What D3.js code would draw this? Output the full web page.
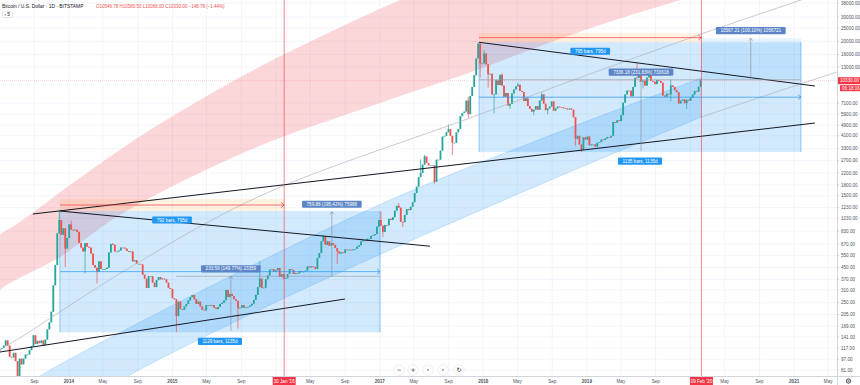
<!DOCTYPE html>
<html><head><meta charset="utf-8">
<script src="https://cdn.jsdelivr.net/npm/d3@7"></script>
<style>html,body{margin:0;padding:0;background:#fff;}svg{display:block;font-family:"Liberation Sans",Arial,sans-serif;}</style>
</head><body><svg id="c" width="860" height="385"></svg>
<script>
// ---------- DATA ----------
const weekStart = "2013-05-05";          // first weekly close (Sunday)
const firstOpen = 112;
const close2013 = [115,117,122,133,122,101,100,108,94,70,98,89,98,105,105,113,121,145,125,132,127,133,123,135,160,180,215,335,470,800,1000,780,870,620,740];
const close2014 = [930,850,840,850,820,680,630,590,680,640,630,570,470,450,420,500,440,440,440,450,580,670,660,590,590,600,630,630,620,595,585,590,500,510,480,480,475,400,375,320,390,390,350,325,365,385,370,375,370,350,320,315];
const close2015 = [270,265,200,255,225,222,235,245,260,275,285,265,245,255,235,222,220,240,240,237,240,230,225,233,245,250,260,310,275,290,280,265,258,228,230,240,230,231,233,238,246,262,285,325,375,320,322,370,395,435,440,422];
const close2016 = [431,448,385,404,375,377,405,440,433,405,411,410,425,420,420,428,460,452,460,455,440,530,575,700,760,660,700,650,680,660,625,590,570,582,575,610,608,608,602,612,617,640,655,700,710,705,730,730,766,774,790,895];
const close2017 = [1000,910,820,920,915,1020,1000,1050,1170,1270,1230,970,965,1090,1200,1180,1250,1350,1570,1750,2050,2200,2530,2900,2600,2500,2500,2500,1900,2750,2750,3200,4050,4100,4350,4580,4100,3650,3650,4350,4600,5700,6000,6150,7400,5900,8000,9300,11300,15000,19200,13800,13800];
const close2018 = [16300,13600,11500,11600,8200,8200,10400,9600,11400,9500,7900,8400,6800,7000,8350,8900,9400,9650,8700,8550,7350,7700,6750,6450,6150,6350,6750,6350,7400,8200,7030,6300,6480,6700,7300,6250,6500,6700,6630,6600,6500,6480,6380,6480,6350,5600,3900,4100,3550,3250,4000,3850];
const close2019 = [4050,3500,3550,3550,3420,3650,3690,3850,3820,3920,4020,3990,4100,5170,5100,5320,5250,5800,7150,8200,8750,8740,7950,9300,10850,10800,11450,10200,10350,9500,10900,11400,10300,10150,9750,10400,10300,9980,8050,7900,8300,8230,9550,9300,8800,8500,7050,7400,7550,7080,7500,7380];
const close2020 = [7750,8180,8700,8600,9330,10330];

const spikeDates  = ["2013-07-05","2013-11-30","2013-12-18","2014-01-06","2014-02-25","2014-04-11","2014-06-03","2015-01-14","2015-08-19","2015-11-04","2016-06-17","2016-08-02","2017-01-04","2017-01-11","2017-03-10","2017-03-25","2017-05-25","2017-06-11","2017-07-16","2017-09-02","2017-09-15","2017-11-08","2017-11-12","2017-12-17","2017-12-22","2018-01-06","2018-01-17","2018-02-06","2018-03-05","2018-04-06","2018-05-05","2018-06-29","2018-07-24","2018-08-14","2018-11-25","2018-12-15","2019-06-26","2019-07-17","2019-08-06","2019-10-23","2019-10-26","2019-12-18","2020-02-09"];
const spikePrices = [68,1163,455,990,410,345,680,152.4,162,502,778,480,1153,750,1330,890,2760,2990,1840,4980,2970,7880,5550,19666,10900,17200,9200,6000,11700,6450,9990,5780,8500,5880,3480,3122,13880,9070,12300,7300,10500,6430,10580];

const yTicks = [81,97,117,141,169,205,250,310,370,450,550,670,830,1030,1230,1500,1800,2200,2700,3300,4100,4900,5900,7100,13000,16000,20000,25000,30000,38000];
const lastPrice = 10330;
const headerTitle = "Bitcoin / U.S. Dollar · 1D · BITSTAMP";
const headerOHLC = "O10546.78 H10580.50 L10068.00 C10330.00 −148.78 (−1.44%)";

// drawings (date, price anchors)
const redBandUpper = [["2013-04-01",640],["2013-05-03",778],["2013-07-12",967],["2014-01-29",1956],["2014-10-14",4520],["2015-10-01",11950],["2016-07-10",23360],["2017-03-13",39935],["2017-09-05",55800]];
const redBandLower = [["2013-04-01",250],["2013-05-03",310],["2013-11-30",538],["2014-06-30",1088],["2015-10-01",3233],["2017-01-02",7110],["2017-12-10",12360],["2018-06-15",17290],["2019-02-16",26270],["2019-12-31",42000],["2020-04-14",48850]];
const blueBandUpper = [["2013-07-12",60],["2013-09-21",73.3],["2013-12-29",95.8],["2015-07-19",385],["2017-02-06",1399],["2018-08-10",4018],["2020-02-09",10808]];
const blueBandLower = [["2014-06-01",63],["2014-07-28",73.3],["2014-11-11",95.8],["2015-12-25",249],["2017-02-06",605],["2018-08-10",1891],["2020-02-09",5622]];
const grayLineA = [["2013-04-01",100],["2013-05-03",113.3],["2013-07-12",138.6],["2014-08-04",452],["2015-11-06",1496],["2017-11-15",5529],["2020-02-09",22590],["2021-06-01",48850]];
const grayLineB = [["2020-02-09",5622],["2020-10-08",8262],["2021-06-01",11950]];
const trendLines = [
  [["2013-08-27",1106],["2021-03-15",5080]],
  [["2013-11-30",1163],["2017-06-27",645]],
  [["2013-05-03",109.5],["2016-08-31",266]],
  [["2017-12-17",19666],["2021-03-15",9450]]
];
const dateBoxes = [
  {from:"2013-11-30", to:"2017-01-02", lo:152.4, hi:1163, label:"1129 bars, 1135d", kind:"box"},
  {from:"2017-12-17", to:"2021-01-25", lo:3122, hi:19666, label:"1135 bars, 1135d", kind:"box"},
  {from:"2013-11-30", to:"2016-01-30", lo:1163, hi:1422, label:"792 bars, 795d", kind:"strip"},
  {from:"2017-12-17", to:"2020-02-09", lo:19666, hi:22970, label:"795 bars, 795d", kind:"strip"}
];
const priceRanges = [
  {at:"2015-07-26", lo:155.96, hi:389.55, lineFrom:"2015-01-14", lineTo:"2017-01-02", fillTo:null, label:"233.59 (149.77%) 23359"},
  {at:"2016-07-16", lo:388.8, hi:1148.7, lineFrom:null, lineTo:null, fillTo:null, label:"759.88 (195.42%) 75988"},
  {at:"2019-07-11", lo:3164.4, hi:10500.6, lineFrom:"2017-12-17", lineTo:"2021-01-25", fillTo:null, label:"7336.18 (231.83%) 733618"},
  {at:"2020-08-01", lo:10500.6, hi:21067.8, lineFrom:null, lineTo:null, fillFrom:"2020-02-09", fillTo:"2021-01-25", label:"10567.21 (100.10%) 1056721"}
];
const markerDates = ["2016-01-30","2020-02-09"];
const markerLabels = ["30 Jan '16","09 Feb '20"];

// ---------- SETUP ----------
const PW = 837, PH = 376;
const parse = d3.utcParse("%Y-%m-%d");
const DAY = 864e5;
const x = d3.scaleUtc().domain([parse("2013-05-03"), parse("2021-06-01")]).range([0, PW]);
const y = d3.scaleLog().domain([73.25, 39935]).range([PH, 0]);
const svg = d3.select("#c");
svg.append("rect").attr("width",860).attr("height",385).attr("fill","#fff");
svg.append("defs").append("clipPath").attr("id","clip").append("rect").attr("width",PW).attr("height",PH);

const grid = svg.append("g");
const timeTicks = x.ticks(d3.utcMonth.every(4));
grid.selectAll("line.v").data(timeTicks).join("line")
  .attr("x1",d=>x(d)).attr("x2",d=>x(d)).attr("y1",0).attr("y2",PH).attr("stroke","#f0f3fa").attr("stroke-width",0.8);
grid.selectAll("line.h").data(yTicks).join("line")
  .attr("x1",0).attr("x2",PW).attr("y1",d=>y(d)).attr("y2",d=>y(d)).attr("stroke","#f0f3fa").attr("stroke-width",0.8);

const plot = svg.append("g").attr("clip-path","url(#clip)");
const pt = d => [x(parse(d[0])), y(d[1])];
const curve = d3.line().curve(d3.curveCatmullRom.alpha(0.5));
function bandPath(up, lo){
  const a = curve(up.map(pt));
  const b = curve(lo.slice().reverse().map(pt));
  return a + "L" + b.slice(1) + "Z";
}
// bands
plot.append("path").attr("d", bandPath(redBandUpper, redBandLower)).attr("fill","rgba(242,54,69,0.2)");
plot.append("path").attr("d", bandPath(blueBandUpper, blueBandLower)).attr("fill","rgba(33,150,243,0.2)");
[blueBandUpper, blueBandLower].forEach(l=>plot.append("path").attr("d",curve(l.map(pt))).attr("fill","none").attr("stroke","rgba(33,150,243,0.35)").attr("stroke-width",0.6));

// date range boxes
dateBoxes.forEach(b=>{
  const x0=x(parse(b.from)), x1=x(parse(b.to)), y0=y(b.hi), y1=y(b.lo);
  if(b.kind==="box"){
    plot.append("rect").attr("x",x0).attr("y",y0).attr("width",x1-x0).attr("height",y1-y0)
      .attr("fill","rgba(33,150,243,0.2)");
    plot.append("line").attr("x1",x0).attr("x2",x0).attr("y1",y0).attr("y2",y1).attr("stroke","rgba(33,150,243,0.6)").attr("stroke-width",0.8);
    plot.append("line").attr("x1",x1).attr("x2",x1).attr("y1",y0).attr("y2",y1).attr("stroke","rgba(33,150,243,0.6)").attr("stroke-width",0.8);
  } else {
    plot.append("rect").attr("x",x0).attr("y",y0).attr("width",x1-x0).attr("height",y1-y0)
      .attr("fill","rgba(255,152,0,0.12)");
  }
});
// price range fill (last one)
priceRanges.forEach(p=>{
  if(p.fillTo){
    const x0=x(parse(p.fillFrom)), x1=x(parse(p.fillTo));
    plot.append("rect").attr("x",x0).attr("y",y(p.hi)).attr("width",x1-x0).attr("height",y(p.lo)-y(p.hi)).attr("fill","rgba(33,150,243,0.1)");
  }
});

// candles
const closes = [].concat(close2013,close2014,close2015,close2016,close2017,close2018,close2019,close2020);
const ws = parse(weekStart);
const candles = closes.map((c,i)=>{
  const o = i ? closes[i-1] : firstOpen;
  return {date:new Date(+ws + i*7*DAY), o, c, h:Math.max(o,c), l:Math.min(o,c)};
});
spikeDates.forEach((d,k)=>{
  const s=(parse(d)-ws)/DAY; const i=Math.max(0,Math.ceil(s/7));
  if(candles[i]){ candles[i].h=Math.max(candles[i].h,spikePrices[k]); candles[i].l=Math.min(candles[i].l,spikePrices[k]); }
});
const cg = plot.append("g");
candles.forEach(k=>{
  const cx = x(new Date(+k.date - 3*DAY));
  const col = k.c >= k.o ? "#26a69a" : "#ef5350";
  cg.append("line").attr("x1",cx).attr("x2",cx).attr("y1",y(k.h)).attr("y2",y(k.l)).attr("stroke",col).attr("stroke-width",0.7);
  const top=y(Math.max(k.o,k.c)), bot=y(Math.min(k.o,k.c));
  cg.append("rect").attr("x",cx-0.9).attr("y",top).attr("width",1.8).attr("height",Math.max(0.7,bot-top)).attr("fill",col);
});

// gray thin lines
[grayLineA, grayLineB].forEach(l=>plot.append("path").attr("d",curve(l.map(pt))).attr("fill","none").attr("stroke","#b2b5be").attr("stroke-width",0.7));
// black trend lines
trendLines.forEach(l=>plot.append("line").attr("x1",pt(l[0])[0]).attr("y1",pt(l[0])[1]).attr("x2",pt(l[1])[0]).attr("y2",pt(l[1])[1]).attr("stroke","#131722").attr("stroke-width",1));

// price range lines
priceRanges.forEach(p=>{
  const px=x(parse(p.at));
  if(p.lineFrom){
    plot.append("line").attr("x1",x(parse(p.lineFrom))).attr("x2",x(parse(p.lineTo))).attr("y1",y(p.hi)).attr("y2",y(p.hi)).attr("stroke","#9598a1").attr("stroke-width",0.6);
  }
  plot.append("line").attr("x1",px).attr("x2",px).attr("y1",y(p.lo)).attr("y2",y(p.hi)).attr("stroke","#868993").attr("stroke-width",0.6);
  plot.append("path").attr("d",`M${px-2},${y(p.hi)+2.5}L${px},${y(p.hi)}L${px+2},${y(p.hi)+2.5}`).attr("fill","none").attr("stroke","#868993").attr("stroke-width",0.6);
});
// date range arrows
dateBoxes.forEach(b=>{
  const x0=x(parse(b.from)), x1=x(parse(b.to));
  const ym = y(Math.sqrt(b.lo*b.hi));
  const col = b.kind==="box" ? "#2196f3" : "#f23645";
  plot.append("line").attr("x1",x0).attr("x2",x1).attr("y1",ym).attr("y2",ym).attr("stroke",col).attr("stroke-width",0.7);
  plot.append("path").attr("d",`M${x1-3},${ym-2.5}L${x1},${ym}L${x1-3},${ym+2.5}`).attr("fill","none").attr("stroke",col).attr("stroke-width",0.7);
});
// vertical marker lines
markerDates.forEach(d=>plot.append("line").attr("x1",x(parse(d))).attr("x2",x(parse(d))).attr("y1",0).attr("y2",PH).attr("stroke","#f23645").attr("stroke-opacity",0.75).attr("stroke-width",0.8));
// last price line
plot.append("line").attr("x1",0).attr("x2",PW).attr("y1",y(lastPrice)).attr("y2",y(lastPrice)).attr("stroke","#f23645").attr("stroke-opacity",0.35).attr("stroke-width",0.6).attr("stroke-dasharray","1,1");

// labels
const lg = svg.append("g").attr("clip-path","url(#clip)");
function label(cx, yMid, text, fill){
  const t = lg.append("text").attr("x",cx).attr("y",yMid+1.6).attr("text-anchor","middle").attr("font-size",4.6).attr("fill","#fff").text(text);
  const w = t.node().getComputedTextLength()+9;
  lg.insert("rect","text").attr("x",cx-w/2).attr("y",yMid-3.6).attr("width",w).attr("height",7.2).attr("rx",1).attr("fill",fill);
}
dateBoxes.forEach(b=>{
  const cx=(x(parse(b.from))+x(parse(b.to)))/2;
  label(cx, y(b.lo)+9, b.label, "#2196f3");
});
priceRanges.forEach(p=>label(x(parse(p.at)), y(p.hi)-7.5, p.label, "#5b85c6"));

// ---------- AXES ----------
const ax = svg.append("g");
ax.append("line").attr("x1",PW+0.5).attr("x2",PW+0.5).attr("y1",0).attr("y2",385).attr("stroke","#d1d4dc").attr("stroke-width",1);
ax.append("line").attr("x1",0).attr("x2",860).attr("y1",PH+0.5).attr("y2",PH+0.5).attr("stroke","#d1d4dc").attr("stroke-width",1);
const fmt = d3.format(".2f");
yTicks.forEach(v=>{
  ax.append("line").attr("x1",PW).attr("x2",PW+2).attr("y1",y(v)).attr("y2",y(v)).attr("stroke","#b2b5be").attr("stroke-width",0.6);
  ax.append("text").attr("x",PW+4).attr("y",y(v)+1.6).attr("font-size",4.6).attr("fill","#50535e").text(fmt(v));
});
const tfmt = d => d.getUTCMonth()===0 ? d3.utcFormat("%Y")(d) : d3.utcFormat("%b")(d);
const markerX = markerDates.map(d=>x(parse(d)));
timeTicks.forEach(d=>{
  const tx = x(d);
  if(tx<-2||tx>PW) return;
  if(markerX.some(m=>Math.abs(m-tx)<20)) return;   // hidden under the red date labels
  ax.append("text").attr("x",tx).attr("y",383.2).attr("text-anchor","middle").attr("font-size",4.6)
    .attr("font-weight", d.getUTCMonth()===0 ? "bold":"normal").attr("fill","#50535e").text(tfmt(d));
});
markerDates.forEach((d,i)=>{
  const cx=x(parse(d));
  ax.append("rect").attr("x",cx-11.5).attr("y",377).attr("width",23).attr("height",8).attr("fill","#f23645");
  ax.append("text").attr("x",cx).attr("y",383).attr("text-anchor","middle").attr("font-size",4.6).attr("fill","#fff").text(markerLabels[i]);
});
// last price labels
const ly=y(lastPrice);
ax.append("rect").attr("x",PW+1).attr("y",ly-3.5).attr("width",22).attr("height",7).attr("fill","#f23645");
ax.append("text").attr("x",PW+3).attr("y",ly+1.6).attr("font-size",4.6).attr("fill","#fff").text(fmt(lastPrice));
ax.append("rect").attr("x",PW+3).attr("y",ly+4.5).attr("width",20).attr("height",6).attr("fill","#f23645");
ax.append("text").attr("x",PW+5).attr("y",ly+9).attr("font-size",4.6).attr("fill","#fff").text("06:18:16");
// gear icon
ax.append("circle").attr("cx",848.5).attr("cy",381).attr("r",2.2).attr("fill","none").attr("stroke","#131722").attr("stroke-width",0.7);
ax.append("circle").attr("cx",848.5).attr("cy",381).attr("r",0.8).attr("fill","none").attr("stroke","#131722").attr("stroke-width",0.5);

// header
svg.append("text").attr("x",2).attr("y",8).attr("font-size",4.9).attr("fill","#131722").text(headerTitle);
svg.append("text").attr("x",96).attr("y",8).attr("font-size",4.5).attr("fill","#ef5350").text(headerOHLC);
svg.append("rect").attr("x",2.5).attr("y",11.5).attr("width",10).attr("height",6).attr("rx",1).attr("fill","#fff").attr("stroke","#d1d4dc").attr("stroke-width",0.6);
svg.append("text").attr("x",4.5).attr("y",16).attr("font-size",4.6).attr("fill","#131722").text("› 5");

// navigation buttons
const navX=[399,413,428,443,459], navG=["−","+","‹","›","↻"];
navX.forEach((cx,i)=>{
  svg.append("circle").attr("cx",cx).attr("cy",370).attr("r",5.2).attr("fill","#fff").attr("stroke","#e0e3eb").attr("stroke-width",0.6);
  svg.append("text").attr("x",cx).attr("y",372.2).attr("text-anchor","middle").attr("font-size",6.2)
    .attr("font-family","DejaVu Sans").attr("fill","#131722").text(navG[i]);
});
</script></body></html>
